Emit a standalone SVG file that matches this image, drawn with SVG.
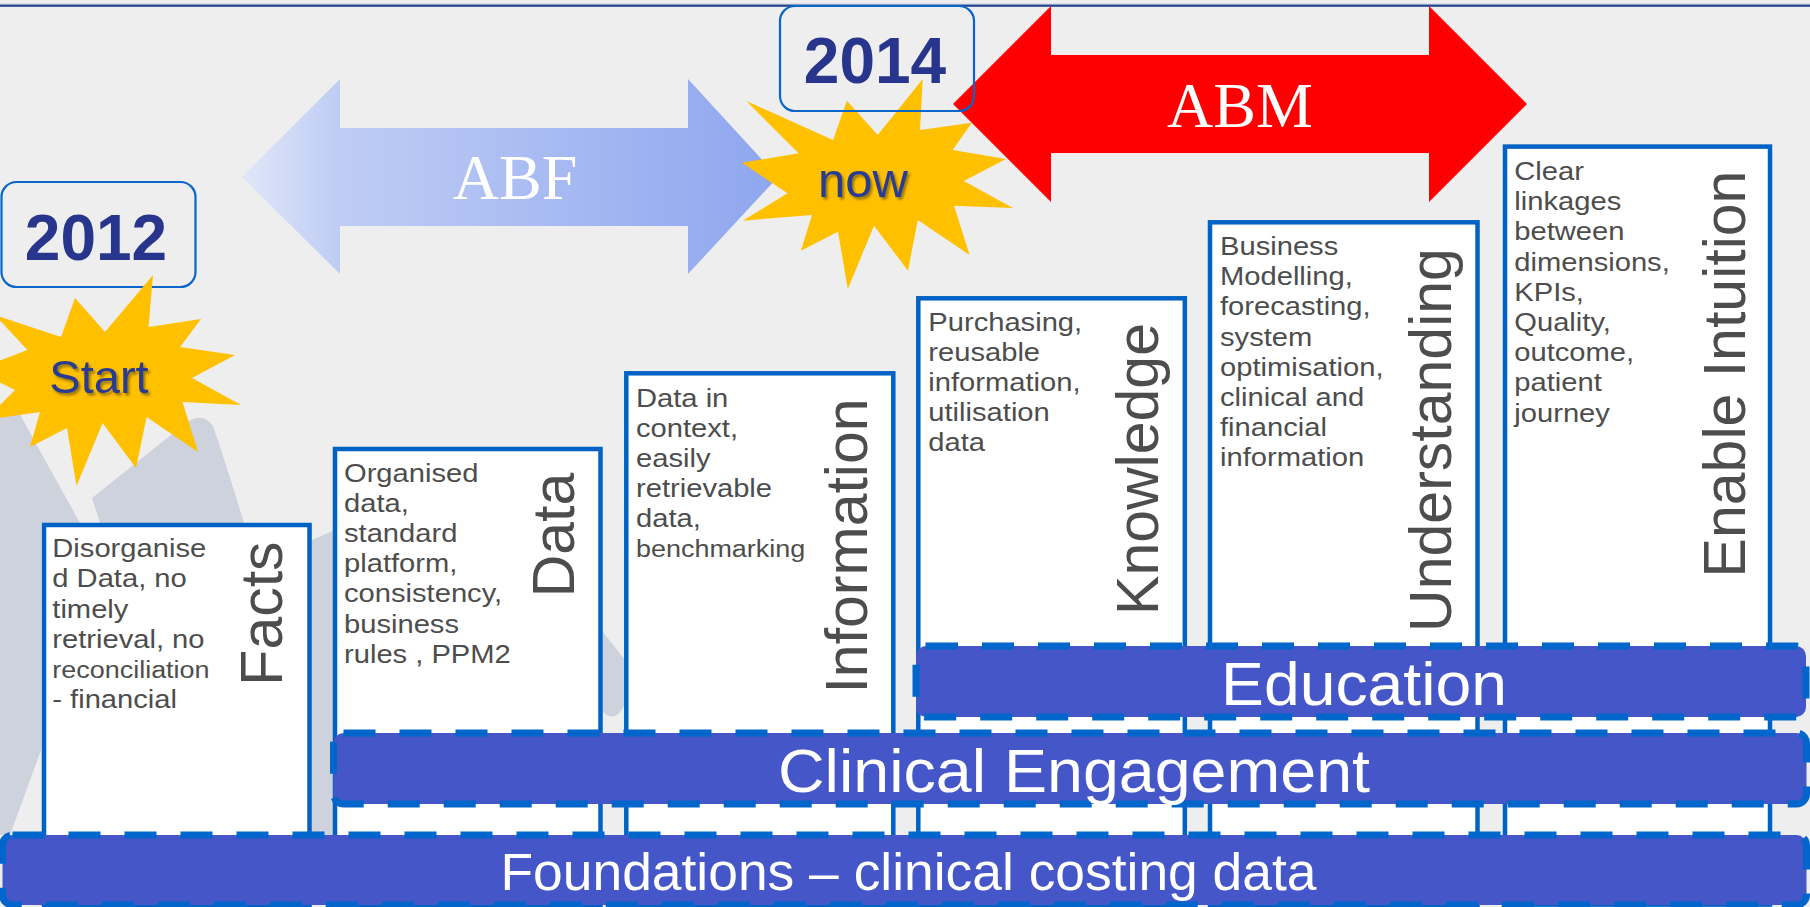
<svg xmlns="http://www.w3.org/2000/svg" width="1810" height="907" viewBox="0 0 1810 907">
<defs>
<style>
.box{fill:#fff;stroke:#0062c4;stroke-width:4.5}
.bar{fill:#4557c8;stroke:#0066cc;stroke-width:7;stroke-dasharray:32 24}
.body{font-family:"Liberation Sans",Arial,sans-serif;font-size:26.5px;fill:#4d4d4d}
.sm{font-size:24.5px}
.label{font-family:"Liberation Sans",Arial,sans-serif;font-size:59px;fill:#4d4d4d;text-anchor:middle}
.bartext{font-family:"Liberation Sans",Arial,sans-serif;fill:#fff;text-anchor:middle}
.year{font-family:"Liberation Sans",Arial,sans-serif;font-weight:bold;font-size:64px;fill:#27358c;text-anchor:middle}
.yearbox{fill:none;stroke:#0a66c8;stroke-width:2.2}
.star{fill:#ffc000}
.startext{font-family:"Liberation Sans",Arial,sans-serif;fill:#2b3a92;text-anchor:middle;filter:url(#sh)}
.arrowtext{font-family:"Liberation Serif","Times New Roman",serif;font-size:64px;fill:#fff;text-anchor:middle}
.deco{fill:#cdd2dd}
</style>
<linearGradient id="abfg" gradientUnits="userSpaceOnUse" x1="242" y1="0" x2="778" y2="0">
<stop offset="0" stop-color="#e0e7f8"/>
<stop offset="0.18" stop-color="#bfcdf4"/>
<stop offset="1" stop-color="#8ea6ef"/>
</linearGradient>
<filter id="sh" x="-10%" y="-10%" width="130%" height="140%">
<feDropShadow dx="2" dy="2.5" stdDeviation="1.2" flood-color="#4a3c00" flood-opacity="0.55"/>
</filter>
</defs>
<rect x="0" y="0" width="1810" height="907" fill="#eeeeee"/>
<rect x="0" y="3.5" width="1810" height="1.2" fill="#c9cfe0"/>
<rect x="0" y="4.6" width="1810" height="2.2" fill="#22438e"/>

<g id="background-decoration">
<polygon class="deco" points="0,405 12,400 45,460 80,523 41,523 41,750 10,835 0,835"/>
<path class="deco" d="M92,498 L186,423 Q202,411 213,426 Q228,470 244,523 L312,523 L312,540 L335,530 L335,835 L100,835 L100,523 Z"/>
<path class="deco" d="M603,632 L625,660 L625,704 Q616,724 603,712 Z"/>
</g>

<g id="arrow-abf">
<polygon points="242,177 340,79 340,128 688,128 688,79 778,177 688,274 688,226 340,226 340,274" fill="url(#abfg)"/>
<text class="arrowtext" x="515" y="199">ABF</text>
</g>

<g id="arrow-abm">
<polygon points="953,104 1051,6 1051,55 1429,55 1429,6 1527,104 1429,202 1429,153 1051,153 1051,202" fill="#ff0000"/>
<text class="arrowtext" x="1240" y="127">ABM</text>
</g>

<g id="star-now">
<polygon class="star" points="922.7,79 920,130 971.8,122.7 952.7,150 1006,159 963.8,181 1013,208 954,205.7 969.6,255 917.8,220 908,270.7 874,225.7 847.8,289 838,231.7 800.9,250.7 812,215 742.8,220.7 787.5,193.3 742,162.7 798.6,153.3 746.4,101 833,140 846.9,100.7 877.7,135"/>
<text class="startext" x="863" y="197" font-size="49">now</text>
</g>

<g id="year-2014">
<rect class="yearbox" x="780" y="6" width="194" height="105" rx="15"/>
<text class="year" x="875" y="83">2014</text>
</g>

<g id="year-2012">
<rect class="yearbox" x="1.5" y="182" width="194" height="105" rx="15"/>
<text class="year" x="96" y="260">2012</text>
</g>

<g id="star-start">
<polygon class="star" points="153,275 148.5,327 201,319 180,347 235,355 192,378 241,405 182.5,402 198,452 146.6,417 136,468 102.6,423 76.5,486 67,428 30,447 40,412 -15,420 15,390 -25,370 27.5,350 -5,315 61,337 75,298 105,332"/>
<text class="startext" x="99" y="393" font-size="47">Start</text>
</g>

<g id="step-facts">
<rect class="box" x="44" y="525" width="265.5" height="380"/>
<text class="body" transform="translate(52.3,557.3) scale(1.1,1)"><tspan x="0" y="0">Disorganise</tspan><tspan x="0" dy="30.2">d Data, no</tspan><tspan x="0" dy="30.2">timely</tspan><tspan x="0" dy="30.2">retrieval, no</tspan><tspan x="0" dy="30.2" class="sm">reconciliation</tspan><tspan x="0" dy="30.2">- financial</tspan></text>
<text class="label" transform="translate(282.3,613.5) rotate(-90)">Facts</text>
</g>

<g id="step-data">
<rect class="box" x="335" y="449" width="265.5" height="456"/>
<text class="body" transform="translate(344,481.7) scale(1.1,1)"><tspan x="0" y="0">Organised</tspan><tspan x="0" dy="30.2">data,</tspan><tspan x="0" dy="30.2">standard</tspan><tspan x="0" dy="30.2">platform,</tspan><tspan x="0" dy="30.2">consistency,</tspan><tspan x="0" dy="30.2">business</tspan><tspan x="0" dy="30.2">rules , PPM2</tspan></text>
<text class="label" transform="translate(573.6,535) rotate(-90)">Data</text>
</g>

<g id="step-information">
<rect class="box" x="626.3" y="373.3" width="267" height="532"/>
<text class="body" transform="translate(636,406.7) scale(1.1,1)"><tspan x="0" y="0">Data in</tspan><tspan x="0" dy="30.2">context,</tspan><tspan x="0" dy="30.2">easily</tspan><tspan x="0" dy="30.2">retrievable</tspan><tspan x="0" dy="30.2">data,</tspan><tspan x="0" dy="29.2" class="sm">benchmarking</tspan></text>
<text class="label" transform="translate(866.7,546) rotate(-90)">Information</text>
</g>

<g id="step-knowledge">
<rect class="box" x="918.3" y="298.3" width="266.5" height="607"/>
<text class="body" transform="translate(928.3,330.7) scale(1.1,1)"><tspan x="0" y="0">Purchasing,</tspan><tspan x="0" dy="30.2">reusable</tspan><tspan x="0" dy="30.2">information,</tspan><tspan x="0" dy="30.2">utilisation</tspan><tspan x="0" dy="30.2">data</tspan></text>
<text class="label" transform="translate(1158,469) rotate(-90)">Knowledge</text>
</g>

<g id="step-understanding">
<rect class="box" x="1210" y="222.3" width="267.5" height="683"/>
<text class="body" transform="translate(1220,255) scale(1.1,1)"><tspan x="0" y="0">Business</tspan><tspan x="0" dy="30.2">Modelling,</tspan><tspan x="0" dy="30.2">forecasting,</tspan><tspan x="0" dy="30.2">system</tspan><tspan x="0" dy="30.2">optimisation,</tspan><tspan x="0" dy="30.2">clinical and</tspan><tspan x="0" dy="30.2">financial</tspan><tspan x="0" dy="30.2">information</tspan></text>
<text class="label" transform="translate(1450.7,440) rotate(-90)">Understanding</text>
</g>

<g id="step-enable-intuition">
<rect class="box" x="1505" y="146.6" width="265" height="758"/>
<text class="body" transform="translate(1514.3,180) scale(1.1,1)"><tspan x="0" y="0">Clear</tspan><tspan x="0" dy="30.2">linkages</tspan><tspan x="0" dy="30.2">between</tspan><tspan x="0" dy="30.2">dimensions,</tspan><tspan x="0" dy="30.2">KPIs,</tspan><tspan x="0" dy="30.2">Quality,</tspan><tspan x="0" dy="30.2">outcome,</tspan><tspan x="0" dy="30.2">patient</tspan><tspan x="0" dy="30.2">journey</tspan></text>
<text class="label" transform="translate(1745,374) rotate(-90)">Enable Intuition</text>
</g>

<g id="bar-education">
<rect class="bar" x="916" y="646" width="890" height="71" rx="10"/>
<text class="bartext" x="1364" y="705" font-size="62" textLength="286" lengthAdjust="spacingAndGlyphs">Education</text>
</g>

<g id="bar-clinical-engagement">
<rect class="bar" x="333.5" y="733" width="1473" height="71" rx="10"/>
<text class="bartext" x="1074" y="792" font-size="62" textLength="592" lengthAdjust="spacingAndGlyphs">Clinical Engagement</text>
</g>

<g id="bar-foundations">
<rect class="bar" x="2.5" y="835" width="1804" height="70" rx="10"/>
<text class="bartext" x="908.5" y="890" font-size="51" textLength="816" lengthAdjust="spacingAndGlyphs">Foundations – clinical costing data</text>
</g>

<g id="connectors"/>
</svg>
